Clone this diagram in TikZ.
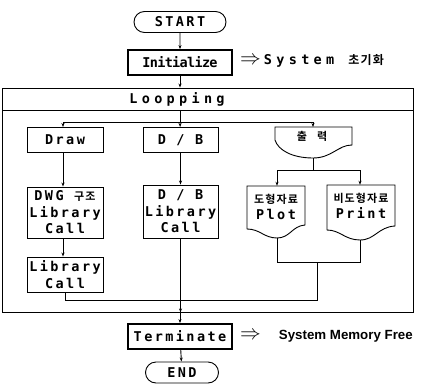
\documentclass[tikz,border=0pt]{standalone}
\usepackage{fontspec}
\usetikzlibrary{arrows.meta,shapes.misc}
\newfontfamily\monofont{DejaVu Sans Mono}[LetterSpace=18]
\newfontfamily\monowide{DejaVu Sans Mono}[LetterSpace=32]
\newfontfamily\monotight{DejaVu Sans Mono}[LetterSpace=-5]
\newfontfamily\krfont{Noto Sans CJK KR}[LetterSpace=10,BoldFont={Noto Sans CJK KR Bold}]
\newfontfamily\notefont{Liberation Sans}
\newcommand\boxfont{\fontsize{13.5}{16.5}\selectfont\monofont\bfseries}
\newcommand\krsize{\fontsize{11}{13}\selectfont}
\tikzset{
  proc/.style={draw,line width=0.9pt,minimum width=76pt,minimum height=25pt,
    inner sep=1pt,align=center,font=\boxfont},
  mainproc/.style={proc,line width=1.8pt,minimum width=104pt},
  endcap/.style={draw,rounded rectangle,line width=0.9pt,minimum height=21pt,
    inner sep=1pt,font=\boxfont},
  docbox/.style={minimum width=58pt,minimum height=42pt,inner sep=1pt,align=center,font=\boxfont},
  flow/.style={line width=0.9pt,-{Stealth[length=4pt,width=3pt]}},
  link/.style={line width=0.9pt}
}
\begin{document}
\begin{tikzpicture}[x=1pt,y=-1pt]
  \useasboundingbox (0,0) rectangle (425,385);
  % start and init
  \node[endcap,minimum width=94pt] (start) at (180,22) {START};
  \node[mainproc] (init) at (180,62.5) {\monotight Initialize};
  \node[anchor=west,inner sep=0pt] (initnote) at (240,61)
    {{\fontsize{22}{22}\selectfont$\Rightarrow$}\hspace{3pt}{\fontsize{13.5}{16}\selectfont\monowide\bfseries System}\hspace{14pt}{\krfont\bfseries\fontsize{12}{14}\selectfont 초기화}};
  % the loop frame
  \node[draw,line width=0.9pt,minimum width=411pt,minimum height=224pt,inner sep=0pt] (loop) at (207.5,200) {};
  \draw[link] (2,110) -- (413,110);
  \node[font=\boxfont] (looptitle) at (177,99.5) {\monowide Loopping};
  \coordinate (fork) at (180,110);
  \coordinate (split) at (180,122);
  % three branches
  \node[proc] (draw) at (65,140) {Draw};
  \node[proc,minimum width=75pt] (db) at (180.5,140) {D / B};
  \node[font=\krfont\bfseries\krsize] (out) at (312,136) {출\hspace{10pt}력};
  \draw[link] (275,127) -- (352,127) -- (352,145)
    .. controls (338,145) and (332,158) .. (313,158)
    .. controls (292,158) and (278,150) .. (275,140) -- cycle;
  \coordinate (outtop) at (313,127);
  \coordinate (outb) at (313,158);
  \coordinate (outsplit) at (313,170);
  \node[proc,minimum height=51pt] (dwg) at (65,212.5) {DWG {\krfont\krsize 구조}\\Library\\Call};
  \node[proc,minimum width=75pt,minimum height=53pt] (dblib) at (180.5,211.5) {D / B\\Library\\Call};
  \node[proc,minimum height=35pt] (libcall) at (65,274.5) {Library\\Call};
  % output documents
  \node[docbox] (plot) at (276,207) {{\krfont\krsize 도형자료}\\Plot};
  \draw[link] (247,229) -- (247,186) -- (305,186) -- (305,225)
    .. controls (292,226) and (290,238) .. (277,238)
    .. controls (264,238) and (260,229) .. (247,229);
  \node[docbox,minimum width=68pt] (print) at (361,206) {{\krfont\krsize 비도형자료}\\Print};
  \draw[link] (327,230) -- (327,185) -- (395,185) -- (395,226)
    .. controls (378,227) and (375,240) .. (360,240)
    .. controls (345,240) and (340,230) .. (327,230);
  \coordinate (plotb) at (277,238);
  \coordinate (printb) at (360,240);
  \coordinate (join) at (317,262);
  \coordinate (merge) at (317,300);
  % end part
  \node[mainproc] (term) at (180,336.5) {Terminate};
  \node[anchor=west,inner sep=0pt] (termnote) at (240,336)
    {{\fontsize{22}{22}\selectfont$\Rightarrow$}\hspace{18pt}{\notefont\bfseries\fontsize{13.3}{15}\selectfont System Memory Free}};
  \node[endcap,minimum width=75pt] (end) at (182,372.5) {END};
  % connectors
  \draw[flow] (start) -- (init);
  \draw[flow] (init) -- (init |- loop.north);
  \draw[link] (fork) -- (split);
  \draw[flow] (split) -| (draw.north -| 63,0);
  \draw[flow] (split) -- (db);
  \draw[flow] (split) -| (outtop);
  \draw[flow] (draw.south -| 63,0) -- (dwg.north -| 63,0);
  \draw[flow] (dwg.south -| 63,0) -- (libcall.north -| 63,0);
  \draw[flow] (db) -- (dblib);
  \draw[link] (outb) -- (outsplit);
  \draw[flow] (outsplit) -| (plot.north -| plotb);
  \draw[flow] (outsplit) -| (print.north -| printb);
  \draw[link] (plotb) |- (join);
  \draw[link] (printb) |- (join);
  \draw[link] (libcall) |- (merge) -- (join);
  \draw[flow] (dblib) -- (dblib |- loop.south);
  \draw[flow] (term |- loop.south) -- (term);
  \draw[flow] (term) -- (end);
\end{tikzpicture}
\end{document}
